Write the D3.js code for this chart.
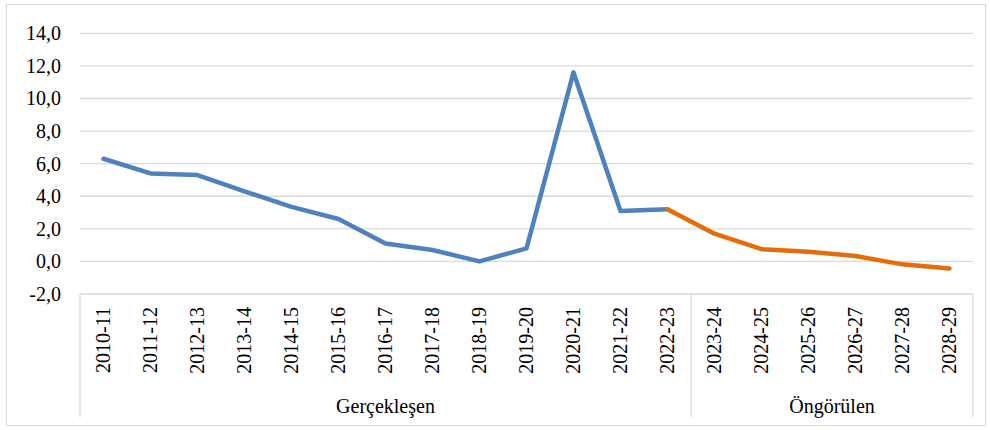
<!DOCTYPE html>
<html>
<head>
<meta charset="utf-8">
<script src="https://cdn.jsdelivr.net/npm/d3@7"></script>
<style>
  body { margin: 0; background: #fff; font-family: "Liberation Serif", "Times New Roman", serif; }
  svg text { font-family: inherit; }
</style>
</head>
<body>
<script>
// categories and values
const years = ["2010-11","2011-12","2012-13","2013-14","2014-15","2015-16","2016-17",
  "2017-18","2018-19","2019-20","2020-21","2021-22","2022-23",
  "2023-24","2024-25","2025-26","2026-27","2027-28","2028-29"];
const actual = [6.3, 5.4, 5.3, 4.3, 3.35, 2.6, 1.1, 0.7, 0.0, 0.8, 11.6, 3.1, 3.2];
const forecast = [3.2, 1.7, 0.75, 0.6, 0.33, -0.18, -0.43]; // starts at 2022-23
const groups = [
  {name: "Gerçekleşen", from: 0, to: 12},
  {name: "Öngörülen", from: 13, to: 18}
];
const yTicks = [-2, 0, 2, 4, 6, 8, 10, 12, 14];

const width = 990, height = 430;
const plotLeft = 80, plotRight = 973, plotTop = 33.3, plotBottom = 294;

const svg = d3.select("body").append("svg")
    .attr("width", width)
    .attr("height", height)
    .style("font-family", "inherit")
    .attr("font-size", 20);

// outer frame
svg.append("rect")
    .attr("x", 6.5).attr("y", 4.5)
    .attr("width", 979).attr("height", 421)
    .attr("fill", "none")
    .attr("stroke", "#d9d9d9")
    .attr("stroke-width", 1);

const x = d3.scaleBand().domain(years).range([plotLeft, plotRight]);
const y = d3.scaleLinear().domain([-2, 14]).range([plotBottom, plotTop]);

// gridlines
svg.append("g")
  .selectAll("line")
  .data(yTicks.filter(d => d > -2))
  .join("line")
    .attr("x1", plotLeft).attr("x2", plotRight)
    .attr("y1", d => y(d)).attr("y2", d => y(d))
    .attr("stroke", "#d9d9d9")
    .attr("stroke-width", 1.3);

// y axis labels
const yAxis = d3.axisLeft(y).tickValues(yTicks)
    .tickSize(0).tickPadding(19)
    .tickFormat(d => d3.format(".1f")(d).replace(".", ",").replace("−", "-"));
svg.append("g")
    .attr("transform", `translate(${plotLeft},0)`)
    .call(yAxis)
    .call(g => g.select(".domain").remove())
    .call(g => g.attr("font-family", null).attr("font-size", null))
    .call(g => g.selectAll("text").attr("fill", "#000"));

// category axis line + group separators
const axisG = svg.append("g");
axisG.append("line")
    .attr("x1", plotLeft).attr("x2", plotRight)
    .attr("y1", plotBottom).attr("y2", plotBottom)
    .attr("stroke", "#d9d9d9").attr("stroke-width", 1.3);
const seps = [plotLeft, x(years[groups[1].from]), plotRight];
axisG.selectAll("line.sep")
  .data(seps)
  .join("line")
    .attr("class", "sep")
    .attr("x1", d => d).attr("x2", d => d)
    .attr("y1", plotBottom).attr("y2", 417)
    .attr("stroke", "#d9d9d9").attr("stroke-width", 1.3);

// rotated tick labels
axisG.selectAll("text.tick")
  .data(years)
  .join("text")
    .attr("class", "tick")
    .attr("transform", d => `translate(${x(d) + x.bandwidth() / 2},307) rotate(-90)`)
    .attr("text-anchor", "end")
    .attr("dy", "0.33em")
    .text(d => d);

// group labels
axisG.selectAll("text.group")
  .data(groups)
  .join("text")
    .attr("class", "group")
    .attr("x", d => (x(years[d.from]) + x(years[d.to]) + x.bandwidth()) / 2)
    .attr("y", 413)
    .attr("text-anchor", "middle")
    .text(d => d.name);

const line = d3.line()
    .x(d => x(d.k) + x.bandwidth() / 2)
    .y(d => y(d.v));

svg.append("path")
    .datum(actual.map((v, i) => ({k: years[i], v})))
    .attr("fill", "none")
    .attr("stroke", "#4f81bd")
    .attr("stroke-width", 4.5)
    .attr("stroke-linejoin", "round")
    .attr("stroke-linecap", "round")
    .attr("d", line);

svg.append("path")
    .datum(forecast.map((v, i) => ({k: years[i + 12], v})))
    .attr("fill", "none")
    .attr("stroke", "#e46c0a")
    .attr("stroke-width", 4.5)
    .attr("stroke-linejoin", "round")
    .attr("stroke-linecap", "round")
    .attr("d", line);
</script>
</body>
</html>
